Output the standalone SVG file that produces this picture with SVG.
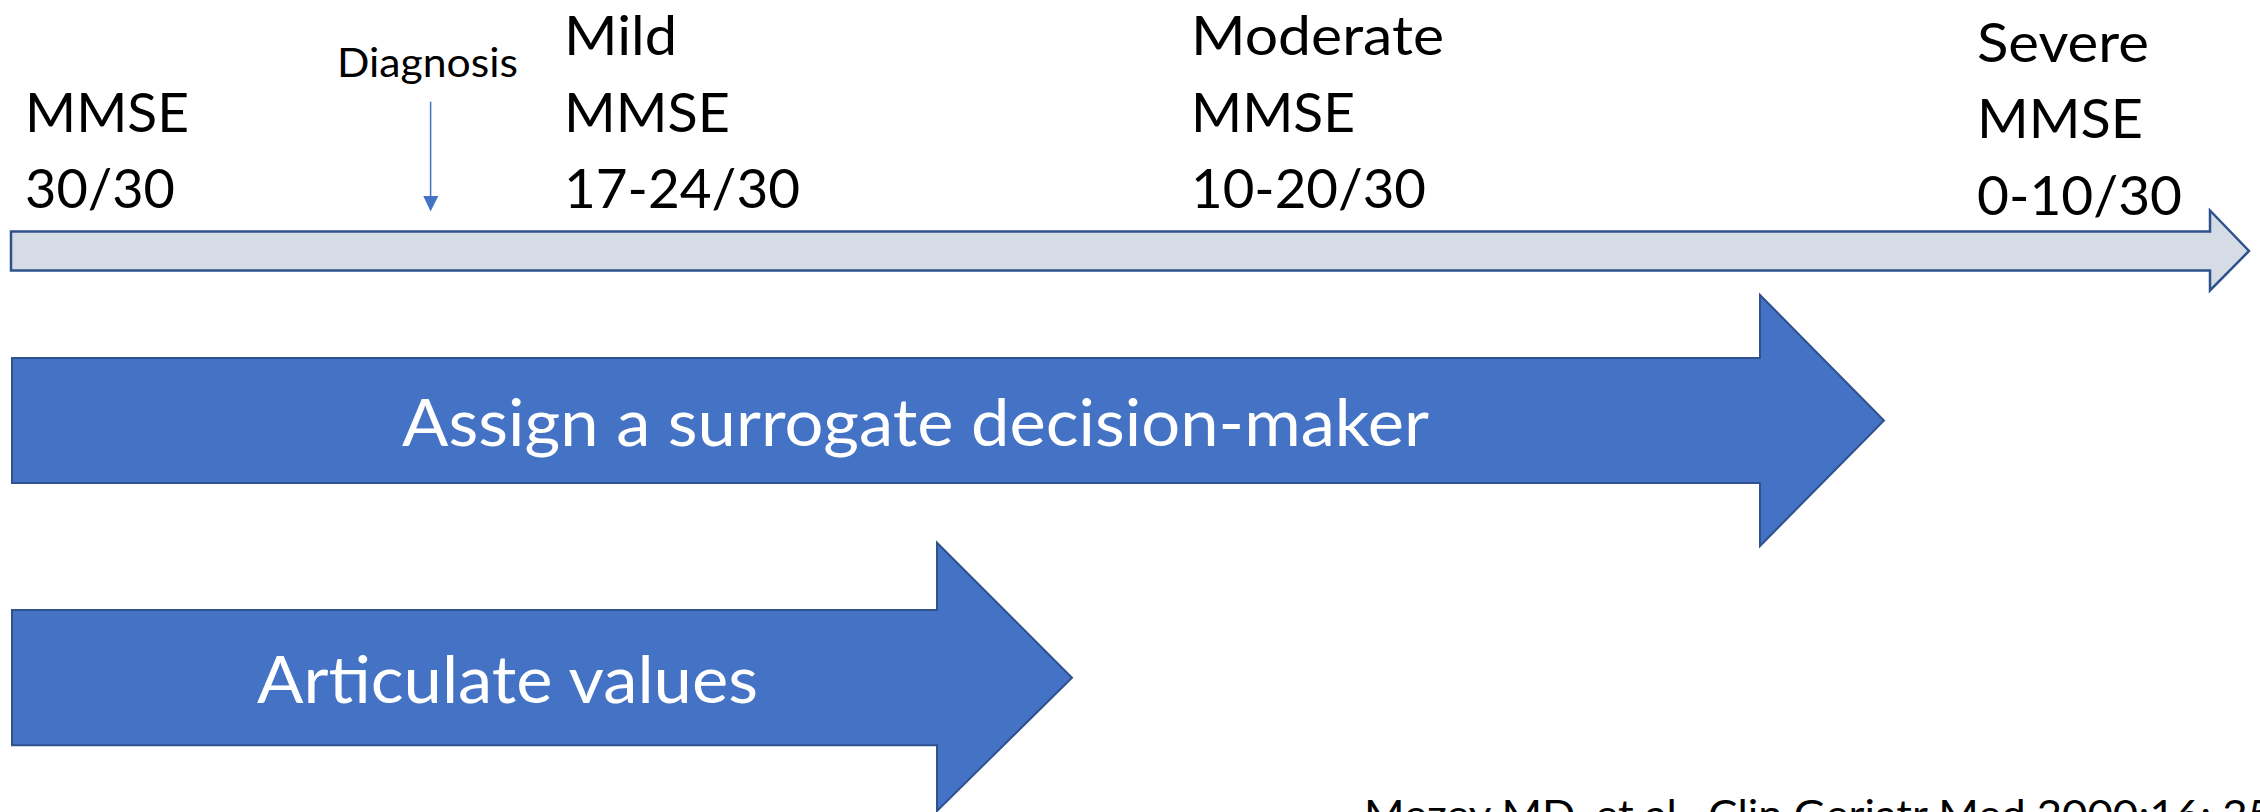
<svg xmlns="http://www.w3.org/2000/svg" width="2260" height="812" viewBox="0 0 2260 812">
<style>
.lbl{font-family:Lato,"Liberation Sans",sans-serif;font-size:55px;fill:#000}
.small{font-family:Lato,"Liberation Sans",sans-serif;font-size:41.5px;fill:#000}
.big{font-family:Lato,"Liberation Sans",sans-serif;font-size:65px;fill:#fff}
.blue{fill:#4472C4;stroke:#2F528F;stroke-width:2}
.light{fill:#D6DCE5;stroke:#2F528F;stroke-width:2.5}
</style>
<rect width="2260" height="812" fill="#fff"/>
<g id="timeline">
<polygon class="light" points="11,231.5 2210,231.5 2210,210.5 2249,251 2210,290.5 2210,270.5 11,270.5"/>
</g>
<g id="label-normal">
<text class="lbl" x="25" y="131.7" textLength="164" lengthAdjust="spacingAndGlyphs">MMSE</text>
<text class="lbl" x="25" y="208.3" textLength="150" lengthAdjust="spacingAndGlyphs">30/30</text>
</g>
<g id="label-diagnosis">
<text class="small" x="337" y="77.3" textLength="181" lengthAdjust="spacingAndGlyphs">Diagnosis</text>
</g>
<g id="label-mild">
<text class="lbl" x="564" y="55" textLength="113" lengthAdjust="spacingAndGlyphs">Mild</text>
<text class="lbl" x="564" y="131.7" textLength="166" lengthAdjust="spacingAndGlyphs">MMSE</text>
<text class="lbl" x="564" y="208.3" textLength="236" lengthAdjust="spacingAndGlyphs">17-24/30</text>
</g>
<g id="label-moderate">
<text class="lbl" x="1191" y="55" textLength="253" lengthAdjust="spacingAndGlyphs">Moderate</text>
<text class="lbl" x="1191" y="131.7" textLength="164" lengthAdjust="spacingAndGlyphs">MMSE</text>
<text class="lbl" x="1191" y="208.3" textLength="235" lengthAdjust="spacingAndGlyphs">10-20/30</text>
</g>
<g id="label-severe">
<text class="lbl" x="1977" y="62.3" textLength="172" lengthAdjust="spacingAndGlyphs">Severe</text>
<text class="lbl" x="1977" y="138.3" textLength="166" lengthAdjust="spacingAndGlyphs">MMSE</text>
<text class="lbl" x="1977" y="215" textLength="205" lengthAdjust="spacingAndGlyphs">0-10/30</text>
</g>
<g id="arrow-surrogate">
<polygon class="blue" points="12,358 1760,358 1760,295 1884,420.5 1760,546 1760,483 12,483"/>
<text class="big" x="402" y="445.6" textLength="1027" lengthAdjust="spacingAndGlyphs">Assign a surrogate decision-maker</text>
</g>
<g id="arrow-values">
<polygon class="blue" points="12,610 937,610 937,542.7 1072,677.7 937,811 937,745.3 12,745.3"/>
<text class="big" x="257" y="703" textLength="501" lengthAdjust="spacingAndGlyphs">Articulate values</text>
</g>
<g id="citation">
<text class="small" x="1364" y="829" textLength="909" lengthAdjust="spacingAndGlyphs">Mezey MD, et al., Clin Geriatr Med 2000;16: 25</text>
</g>
<g id="connectors">
<line x1="430.6" y1="101.7" x2="430.6" y2="197" stroke="#4472C4" stroke-width="1.5"/>
<polygon points="423.3,196 438.3,196 430.6,211.5" fill="#4472C4"/>
</g>
</svg>
